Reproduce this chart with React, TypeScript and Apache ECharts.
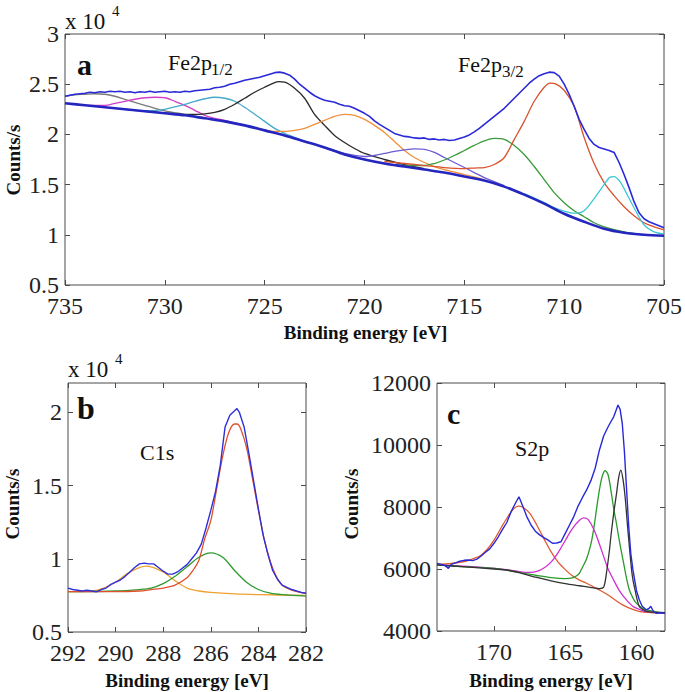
import { useEffect, useRef } from 'react';
import * as echarts from 'echarts';

// ---------- Panel a: Fe2p (values in x10^4 counts/s) ----------
const aBackground = [
  [735, 2.31], [734, 2.29], [733, 2.27], [732, 2.25], [731, 2.23], [730, 2.21], [729, 2.19], [728, 2.16],
  [727, 2.13], [726, 2.09], [725, 2.04], [724, 1.99], [723, 1.93], [722, 1.87], [721, 1.8], [720, 1.75],
  [719, 1.71], [718, 1.68], [717, 1.65], [716, 1.62], [715, 1.58], [714, 1.54], [713, 1.48], [712, 1.4],
  [711, 1.31], [710, 1.21], [709, 1.13], [708, 1.06], [707, 1.02], [706, 1.0], [705, 0.99],
];
const aGray = [
  [735, 2.38], [734.5, 2.395], [734, 2.4], [733.5, 2.405], [733, 2.4], [732.5, 2.38], [732, 2.35], [731.5, 2.32],
  [731, 2.29], [730.5, 2.26], [730, 2.235], [729, 2.2], [728, 2.165], [727, 2.13],
];
const aMagenta = [
  [734, 2.29], [733, 2.29], [732.5, 2.31], [732, 2.33], [731.5, 2.35], [731, 2.365], [730.5, 2.37], [730, 2.365],
  [729.5, 2.33], [729, 2.29], [728.5, 2.24], [728, 2.19], [727.5, 2.16], [727, 2.14], [726, 2.09],
];
const aCyan1 = [
  [732, 2.25], [731, 2.235], [730, 2.25], [729.5, 2.275], [729, 2.3], [728.5, 2.33], [728, 2.355], [727.5, 2.37],
  [727, 2.36], [726.5, 2.33], [726, 2.27], [725.5, 2.2], [725, 2.13], [724.5, 2.06], [724, 2.01], [723.5, 1.97], [723, 1.93],
];
const aBlack = [
  [731, 2.23], [730, 2.215], [729, 2.2], [728.5, 2.2], [728, 2.205], [727.5, 2.22], [727, 2.25], [726.5, 2.3],
  [726, 2.36], [725.5, 2.42], [725, 2.47], [724.5, 2.515], [724.3, 2.525], [724, 2.52], [723.5, 2.46], [723, 2.36],
  [722.5, 2.2], [722, 2.09], [721.5, 1.99], [721, 1.92], [720.5, 1.86], [720, 1.81], [719, 1.75], [718, 1.7], [717, 1.66],
];
const aOrange = [
  [726, 2.09], [725, 2.045], [724.5, 2.03], [724, 2.03], [723.5, 2.04], [723, 2.06], [722.5, 2.1], [722, 2.14],
  [721.5, 2.18], [721, 2.2], [720.5, 2.19], [720, 2.15], [719.5, 2.09], [719, 2.02], [718.5, 1.93], [718, 1.84],
  [717.5, 1.77], [717, 1.72], [716.5, 1.68], [716, 1.65], [715, 1.6], [714, 1.55],
];
const aPurple = [
  [722, 1.87], [721, 1.81], [720, 1.78], [719.5, 1.79], [719, 1.81], [718.5, 1.83], [718, 1.845], [717.5, 1.855],
  [717, 1.85], [716.5, 1.82], [716, 1.77], [715.5, 1.72], [715, 1.67], [714.5, 1.62], [714, 1.57], [713, 1.49],
];
const aGreen = [
  [719, 1.71], [718, 1.69], [717, 1.69], [716.5, 1.71], [716, 1.745], [715.5, 1.79], [715, 1.84], [714.5, 1.89],
  [714, 1.935], [713.5, 1.96], [713, 1.95], [712.5, 1.89], [712, 1.8], [711.5, 1.68], [711, 1.55], [710.5, 1.42],
  [710, 1.32], [709.5, 1.24], [709, 1.18], [708.5, 1.12], [708, 1.08], [707, 1.03], [706, 1.0],
];
const aRed = [
  [719, 1.73], [718, 1.71], [717, 1.69], [716, 1.67], [715, 1.66], [714.5, 1.665], [714, 1.67], [713.5, 1.7],
  [713, 1.77], [712.5, 1.95], [712, 2.13], [711.5, 2.33], [711, 2.47], [710.7, 2.51], [710.4, 2.5], [710, 2.44],
  [709.5, 2.28], [709, 1.97], [708.5, 1.71], [708, 1.52], [707.5, 1.39], [707, 1.28], [706.5, 1.19], [706, 1.12],
  [705.5, 1.08], [705, 1.05],
];
const aCyan2 = [
  [712, 1.41], [711, 1.32], [710.5, 1.27], [710, 1.235], [709.5, 1.215], [709, 1.24], [708.5, 1.36], [708, 1.5],
  [707.7, 1.575], [707.5, 1.58], [707.2, 1.53], [707, 1.46], [706.5, 1.27], [706, 1.1], [705.5, 1.03], [705, 1.01],
];
const aMeasured = [
  [735, 2.38], [734.75, 2.39], [734.5, 2.4], [734.25, 2.405], [734, 2.41], [733.75, 2.42], [733.5, 2.415],
  [733.25, 2.425], [733, 2.42], [732.75, 2.43], [732.5, 2.425], [732.25, 2.43], [732, 2.42], [731.75, 2.425],
  [731.5, 2.415], [731.25, 2.425], [731, 2.42], [730.75, 2.43], [730.5, 2.42], [730.25, 2.425], [730, 2.43],
  [729.75, 2.42], [729.5, 2.425], [729.25, 2.42], [729, 2.43], [728.75, 2.425], [728.5, 2.435], [728.25, 2.44],
  [728, 2.445], [727.75, 2.45], [727.5, 2.465], [727.25, 2.47], [727, 2.48], [726.75, 2.5], [726.5, 2.51],
  [726.25, 2.525], [726, 2.54], [725.75, 2.55], [725.5, 2.56], [725.25, 2.57], [725, 2.585], [724.75, 2.6],
  [724.5, 2.615], [724.25, 2.62], [724, 2.61], [723.75, 2.59], [723.5, 2.55], [723.25, 2.5], [723, 2.46],
  [722.75, 2.42], [722.5, 2.385], [722.25, 2.36], [722, 2.34], [721.75, 2.33], [721.5, 2.32], [721.25, 2.3],
  [721, 2.285], [720.75, 2.28], [720.5, 2.26], [720.25, 2.235], [720, 2.21], [719.75, 2.18], [719.5, 2.135],
  [719.25, 2.1], [719, 2.07], [718.75, 2.04], [718.5, 2.01], [718.25, 1.995], [718, 1.98], [717.75, 1.975],
  [717.5, 1.965], [717.25, 1.96], [717, 1.965], [716.75, 1.95], [716.5, 1.955], [716.25, 1.945], [716, 1.95],
  [715.75, 1.94], [715.5, 1.945], [715.25, 1.96], [715, 1.975], [714.75, 1.995], [714.5, 2.025], [714.25, 2.06],
  [714, 2.1], [713.75, 2.14], [713.5, 2.18], [713.25, 2.22], [713, 2.26], [712.75, 2.31], [712.5, 2.36],
  [712.25, 2.41], [712, 2.46], [711.75, 2.51], [711.5, 2.55], [711.25, 2.585], [711, 2.605], [710.75, 2.62],
  [710.5, 2.615], [710.25, 2.58], [710, 2.5], [709.75, 2.4], [709.5, 2.28], [709.25, 2.15], [709, 2.05],
  [708.75, 1.96], [708.5, 1.9], [708.25, 1.87], [708, 1.855], [707.75, 1.84], [707.5, 1.82], [707.25, 1.72],
  [707, 1.6], [706.75, 1.47], [706.5, 1.33], [706.25, 1.22], [706, 1.16], [705.75, 1.13], [705.5, 1.11],
  [705.25, 1.09], [705, 1.07],
];

// ---------- Panel b: C1s (values in x10^4 counts/s) ----------
const bRed = [
  [292, 0.775], [290, 0.775], [289, 0.78], [288.5, 0.79], [288, 0.8], [287.5, 0.82], [287, 0.87], [286.75, 0.92],
  [286.5, 0.99], [286.25, 1.14], [286, 1.26], [285.75, 1.48], [285.5, 1.7], [285.25, 1.86], [285, 1.92],
  [284.9, 1.92], [284.75, 1.89], [284.5, 1.76], [284.25, 1.55], [284, 1.33], [283.75, 1.13], [283.5, 0.98],
  [283.25, 0.88], [283, 0.82], [282.5, 0.78], [282, 0.765],
];
const bGreen = [
  [292, 0.775], [290, 0.78], [289, 0.79], [288.5, 0.8], [288, 0.83], [287.5, 0.88], [287, 0.945], [286.5, 1.01],
  [286, 1.04], [285.5, 1.01], [285, 0.92], [284.5, 0.84], [284, 0.79], [283.5, 0.765], [283, 0.755], [282, 0.745],
];
const bOrange = [
  [292, 0.775], [291, 0.78], [290.5, 0.8], [290, 0.84], [289.5, 0.9], [289, 0.94], [288.7, 0.95], [288.5, 0.945],
  [288, 0.91], [287.5, 0.85], [287, 0.8], [286.5, 0.78], [286, 0.77], [285, 0.76], [284, 0.755], [282, 0.75],
];
const bMeasured = [
  [292, 0.8], [291.8, 0.79], [291.6, 0.785], [291.4, 0.78], [291.2, 0.785], [291, 0.78], [290.8, 0.775],
  [290.6, 0.79], [290.4, 0.8], [290.2, 0.825], [290, 0.84], [289.8, 0.855], [289.6, 0.88], [289.4, 0.91],
  [289.2, 0.94], [289, 0.965], [288.8, 0.97], [288.6, 0.965], [288.4, 0.965], [288.2, 0.94], [288, 0.915],
  [287.8, 0.895], [287.6, 0.895], [287.4, 0.91], [287.2, 0.935], [287, 0.96], [286.8, 1.0], [286.6, 1.04],
  [286.4, 1.1], [286.2, 1.21], [286, 1.33], [285.8, 1.46], [285.6, 1.64], [285.4, 1.9], [285.2, 1.98],
  [285, 2.01], [284.9, 2.025], [284.8, 2.0], [284.6, 1.9], [284.4, 1.72], [284.2, 1.53], [284, 1.34],
  [283.8, 1.16], [283.6, 1.03], [283.4, 0.92], [283.2, 0.86], [283, 0.82], [282.6, 0.79], [282.2, 0.77], [282, 0.765],
];

// ---------- Panel c: S2p (counts/s) ----------
const cMeasured = [
  [174, 6180], [173.7, 6150], [173.4, 6100], [173.2, 6020], [173.0, 6150], [172.7, 6200], [172.4, 6250],
  [172.1, 6280], [171.8, 6290], [171.5, 6270], [171.2, 6320], [170.9, 6420], [170.6, 6540], [170.3, 6650],
  [170.0, 6830], [169.7, 7040], [169.4, 7280], [169.1, 7500], [168.8, 7850], [168.5, 8120], [168.25, 8330],
  [168.0, 8050], [167.7, 7690], [167.4, 7420], [167.1, 7220], [166.8, 7100], [166.5, 7010], [166.2, 6930],
  [165.9, 6830], [165.6, 6840], [165.3, 6880], [165.0, 7150], [164.7, 7420], [164.4, 7690], [164.1, 8030],
  [163.8, 8300], [163.5, 8550], [163.2, 8850], [162.9, 9250], [162.6, 9840], [162.3, 10300], [162.0, 10580],
  [161.8, 10750], [161.6, 10910], [161.45, 11100], [161.3, 11290], [161.15, 11150], [161.0, 10700],
  [160.85, 9800], [160.7, 8600], [160.55, 7400], [160.4, 6500], [160.25, 5970], [160.0, 5300], [159.8, 5000],
  [159.6, 4800], [159.3, 4680], [159.1, 4740], [159.0, 4800], [158.8, 4620], [158.6, 4570], [158.3, 4590], [158.0, 4570],
];
const cRed = [
  [174, 6150], [173, 6180], [172.5, 6210], [172, 6250], [171.5, 6330], [171, 6420], [170.5, 6620], [170, 6930],
  [169.5, 7330], [169, 7710], [168.6, 7950], [168.3, 8030], [168, 8000], [167.5, 7800], [167, 7420], [166.5, 6980],
  [166, 6560], [165.5, 6220], [165, 5980], [164.5, 5780], [164, 5640], [163.5, 5540], [163, 5420], [162.5, 5300],
  [162, 5160], [161.5, 5000], [161, 4850], [160.5, 4740], [160, 4660], [159.5, 4610], [159, 4590], [158, 4570],
];
const cMagenta = [
  [174, 6130], [171, 6060], [169, 5970], [168, 5900], [167.5, 5890], [167, 5920], [166.5, 6030], [166, 6220],
  [165.5, 6530], [165, 6920], [164.5, 7300], [164, 7570], [163.7, 7650], [163.4, 7600], [163, 7280], [162.6, 6800],
  [162.3, 6400], [162, 6010], [161.6, 5640], [161.2, 5300], [160.9, 5110], [160.5, 4900], [160.2, 4780],
  [159.7, 4680], [159.3, 4625], [158, 4590],
];
const cGreen = [
  [174, 6130], [172, 6070], [170, 6020], [168, 5870], [167, 5790], [166, 5720], [165, 5690], [164.5, 5710],
  [164.2, 5780], [164, 5870], [163.8, 6050], [163.5, 6330], [163.2, 6800], [163, 7300], [162.8, 7950],
  [162.6, 8560], [162.4, 9000], [162.2, 9170], [162.0, 9050], [161.8, 8550], [161.6, 7950], [161.4, 7450],
  [161.2, 6900], [160.9, 6180], [160.7, 5700], [160.5, 5320], [160.2, 5020], [160.0, 4890], [159.6, 4740],
  [159.3, 4680], [158.5, 4610], [158, 4590],
];
const cBlack = [
  [174, 6130], [172, 6070], [170, 6000], [169, 5960], [168, 5850], [167, 5730], [166, 5620], [165, 5530],
  [164, 5460], [163, 5390], [162.6, 5370], [162.3, 5420], [162.1, 5900], [161.9, 6600], [161.8, 7040],
  [161.6, 7800], [161.4, 8440], [161.25, 8950], [161.1, 9190], [160.95, 8900], [160.8, 8330], [160.65, 7500],
  [160.5, 6720], [160.3, 5800], [160.1, 5320], [159.8, 4790], [159.4, 4650], [159.1, 4620], [158, 4590],
];

// ---------- Axis ticks ----------
const aXRange = [705, 735];
const aYRange = [0.5, 3];
const bXRange = [282, 292];
const bYRange = [0.5, 2.2];
const bYTicks = [0.5, 1, 1.5, 2];
const cXRange = [158, 174];
const cXTicks = [160, 165, 170];
const cYRange = [4000, 12000];

const SERIF = 'Liberation Serif';
const AXIS_COLOR = '#4a4a4a';
const LABEL_STYLE = { fontFamily: SERIF, fontSize: 24, lineHeight: 17, color: '#222' };

function xAxisDef(grid: number, range: number[], opts: any, top: boolean) {
  return {
    type: 'value', gridIndex: grid, min: range[0], max: range[1], inverse: true,
    position: top ? 'top' : 'bottom',
    ...(opts.interval ? { interval: opts.interval } : {}),
    axisLine: { show: false },
    axisTick: { show: true, inside: true, length: 5, lineStyle: { color: AXIS_COLOR },
      ...(opts.ticks ? { customValues: opts.ticks } : {}) },
    axisLabel: { show: !top, ...LABEL_STYLE, margin: opts.margin || 10, formatter: (v: number) => String(v),
      ...(opts.ticks ? { customValues: opts.ticks } : {}) },
    splitLine: { show: false },
  };
}
function yAxisDef(grid: number, range: number[], opts: any, right: boolean) {
  return {
    type: 'value', gridIndex: grid, min: range[0], max: range[1],
    position: right ? 'right' : 'left',
    ...(opts.interval ? { interval: opts.interval } : {}),
    axisLine: { show: false },
    axisTick: { show: true, inside: true, length: 5, lineStyle: { color: AXIS_COLOR },
      ...(opts.ticks ? { customValues: opts.ticks } : {}) },
    axisLabel: { show: !right, ...LABEL_STYLE, margin: 6, formatter: (v: number) => String(v),
      ...(opts.ticks ? { customValues: opts.ticks } : {}) },
    splitLine: { show: false },
  };
}

function line(data: number[][], axis: number, color: string, width: number, smooth: number | boolean, z: number) {
  return {
    type: 'line', xAxisIndex: axis, yAxisIndex: axis, data, symbol: 'none', showSymbol: false,
    smooth, silent: true, z, lineStyle: { color, width }, animation: false,
  };
}

function txt(text: string, x: number, y: number, fontSize: number, extra: any = {}) {
  return {
    type: 'text', x, y, silent: true, ...(extra.rotation ? { rotation: extra.rotation } : {}),
    style: {
      text, fill: '#111', fontFamily: SERIF, fontSize, fontWeight: extra.bold ? 'bold' : 'normal',
      align: extra.align || 'left', verticalAlign: 'middle',
    },
  };
}

export default function App() {
  const ref = useRef<HTMLDivElement>(null);
  useEffect(() => {
    if (!ref.current) return;
    const chart = echarts.init(ref.current, null, { renderer: 'svg' });
    const option: any = {
      animation: false,
      backgroundColor: '#ffffff',
      textStyle: { fontFamily: SERIF },
      grid: [
        { left: 65, top: 34, width: 601, height: 251, show: true, borderColor: AXIS_COLOR, borderWidth: 1, backgroundColor: 'transparent' },
        { left: 68, top: 383, width: 238, height: 249, show: true, borderColor: AXIS_COLOR, borderWidth: 1, backgroundColor: 'transparent' },
        { left: 437, top: 383, width: 228, height: 248, show: true, borderColor: AXIS_COLOR, borderWidth: 1, backgroundColor: 'transparent' },
      ],
      xAxis: [
        xAxisDef(0, aXRange, { interval: 5, margin: 12 }, false),
        xAxisDef(1, bXRange, { interval: 2, margin: 12 }, false),
        xAxisDef(2, cXRange, { ticks: cXTicks, margin: 12 }, false),
        xAxisDef(0, aXRange, { interval: 5 }, true),
        xAxisDef(1, bXRange, { interval: 2 }, true),
        xAxisDef(2, cXRange, { ticks: cXTicks }, true),
      ],
      yAxis: [
        yAxisDef(0, aYRange, { interval: 0.5 }, false),
        yAxisDef(1, bYRange, { ticks: bYTicks }, false),
        yAxisDef(2, cYRange, { interval: 2000 }, false),
        yAxisDef(0, aYRange, { interval: 0.5 }, true),
        yAxisDef(1, bYRange, { ticks: bYTicks }, true),
        yAxisDef(2, cYRange, { interval: 2000 }, true),
      ],
      series: [
        line(aGray, 0, '#7a7a7a', 1.3, 0.3, 2),
        line(aMagenta, 0, '#d040c8', 1.3, 0.3, 2),
        line(aCyan1, 0, '#45a9c9', 1.3, 0.3, 2),
        line(aBlack, 0, '#2a2a2a', 1.3, 0.3, 2),
        line(aOrange, 0, '#f0903c', 1.3, 0.3, 2),
        line(aPurple, 0, '#6c5ad2', 1.3, 0.3, 2),
        line(aGreen, 0, '#389a38', 1.3, 0.3, 2),
        line(aRed, 0, '#d8522e', 1.3, 0.3, 2),
        line(aCyan2, 0, '#3cc8d2', 1.3, 0.3, 2),
        line(aBackground, 0, '#2525c0', 2.6, 0.3, 3),
        line(aMeasured, 0, '#2a2ad8', 1.6, false, 4),

        line(bOrange, 1, '#f0a030', 1.3, 0.3, 2),
        line(bGreen, 1, '#2e9a2e', 1.3, 0.3, 2),
        line(bRed, 1, '#e0502c', 1.3, 0.3, 3),
        line(bMeasured, 1, '#3030d8', 1.4, false, 4),

        line(cRed, 2, '#e05a30', 1.3, 0.3, 2),
        line(cMagenta, 2, '#d030d0', 1.3, 0.3, 2),
        line(cGreen, 2, '#2a9a2a', 1.3, 0.3, 2),
        line(cBlack, 2, '#333333', 1.3, 0.3, 3),
        line(cMeasured, 2, '#2828d8', 1.4, false, 4),
      ],
      graphic: [
        // panel a
        txt('x 10', 65, 21, 23),
        txt('4', 112, 11, 15),
        txt('a', 77, 64, 30, { bold: true }),
        txt('Fe2p', 168, 62, 22),
        txt('1/2', 211, 69, 17),
        txt('Fe2p', 458, 64, 22),
        txt('3/2', 502, 71, 17),
        txt('Binding energy [eV]', 365.5, 332, 19, { bold: true, align: 'center' }),
        txt('Counts/s', 13, 160, 19, { bold: true, align: 'center', rotation: Math.PI / 2 }),
        // panel b
        txt('x 10', 68, 369, 23),
        txt('4', 115, 359, 15),
        txt('b', 77, 408, 32, { bold: true }),
        txt('C1s', 140, 452, 22),
        txt('Binding energy [eV]', 187, 680, 19, { bold: true, align: 'center' }),
        txt('Counts/s', 12, 504, 19, { bold: true, align: 'center', rotation: Math.PI / 2 }),
        // panel c
        txt('c', 447, 413, 30, { bold: true }),
        txt('S2p', 515, 448, 22),
        txt('Binding energy [eV]', 551, 680, 19, { bold: true, align: 'center' }),
        txt('Counts/s', 351, 504, 19, { bold: true, align: 'center', rotation: Math.PI / 2 }),
      ],
    };
    chart.setOption(option);
    return () => chart.dispose();
  }, []);
  return (
    <div
      ref={ref}
      style={{ position: 'absolute', left: 0, top: 0, width: 685, height: 692, background: '#fff' }}
    />
  );
}
